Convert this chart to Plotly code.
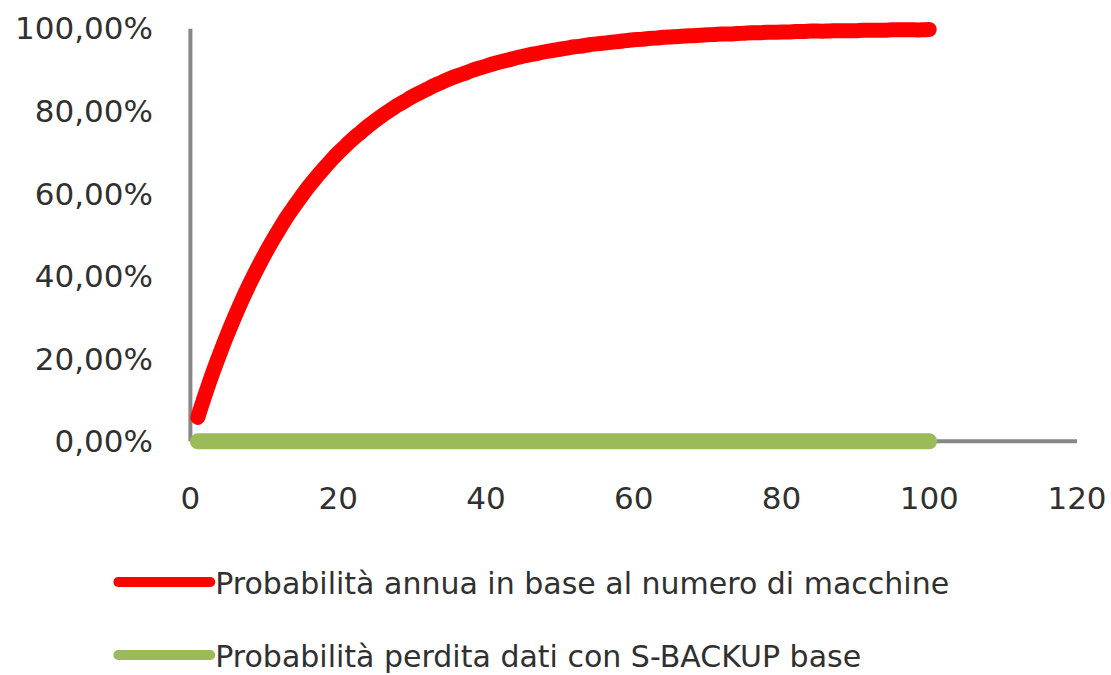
import plotly.graph_objects as go

machines = list(range(1, 101))
prob_annual = [
    0.058, 0.113, 0.165, 0.213, 0.259, 0.302, 0.343, 0.381, 0.417, 0.451,
    0.483, 0.513, 0.542, 0.568, 0.593, 0.617, 0.639, 0.660, 0.680, 0.699,
    0.716, 0.733, 0.748, 0.763, 0.777, 0.790, 0.802, 0.814, 0.824, 0.835,
    0.844, 0.853, 0.862, 0.870, 0.878, 0.885, 0.891, 0.898, 0.904, 0.909,
    0.915, 0.920, 0.924, 0.929, 0.933, 0.937, 0.940, 0.944, 0.947, 0.950,
    0.953, 0.956, 0.958, 0.961, 0.963, 0.965, 0.967, 0.969, 0.971, 0.973,
    0.974, 0.976, 0.977, 0.979, 0.980, 0.981, 0.982, 0.983, 0.984, 0.985,
    0.986, 0.987, 0.987, 0.988, 0.989, 0.990, 0.990, 0.991, 0.991, 0.992,
    0.992, 0.993, 0.993, 0.994, 0.994, 0.994, 0.995, 0.995, 0.995, 0.995,
    0.996, 0.996, 0.996, 0.996, 0.997, 0.997, 0.997, 0.997, 0.997, 0.998,
]
prob_sbackup = [0.0] * 100

names = [
    "Probabilità annua in base al numero di macchine",
    "Probabilità perdita dati con S-BACKUP base",
]
colors = ["#ff0000", "#9bbb59"]

y_ticks = [0, 0.2, 0.4, 0.6, 0.8, 1.0]
y_labels = ["0,00%", "20,00%", "40,00%", "60,00%", "80,00%", "100,00%"]
x_ticks = [0, 20, 40, 60, 80, 100, 120]

FONT = "DejaVu Sans"
TXT = "#303030"

fig = go.Figure()
fig.add_trace(go.Scatter(x=machines, y=prob_annual, mode="lines", name=names[0],
                         legendgroup="a",
                         line=dict(color=colors[0], width=15, shape="spline")))
fig.add_trace(go.Scatter(x=machines, y=prob_sbackup, mode="lines", name=names[1],
                         legendgroup="b",
                         line=dict(color=colors[1], width=16)))

# axis lines
fig.add_shape(type="line", x0=0, x1=0, y0=0, y1=1, xref="x", yref="y",
              line=dict(color="#878787", width=4), layer="below")
fig.add_shape(type="line", x0=0, x1=120, y0=0, y1=0, xref="x", yref="y",
              line=dict(color="#878787", width=4), layer="below")

fig.update_layout(
    width=1111, height=675,
    margin=dict(l=183, r=34, t=8, b=213, autoexpand=False),
    paper_bgcolor="white", plot_bgcolor="white",
    font=dict(family=FONT, size=31, color=TXT),
    xaxis=dict(range=[-1, 120], tickvals=x_ticks, showgrid=False, zeroline=False,
               showline=False, ticks="", ticklabelstandoff=15, automargin=False),
    yaxis=dict(range=[-0.05, 1.05], tickvals=y_ticks, ticktext=y_labels,
               showgrid=False, zeroline=False, showline=False, ticks="",
               ticklabelstandoff=29, automargin=False),
    legend=dict(x=-0.078, y=-0.207, xref="paper", yref="paper", yanchor="top",
                xanchor="left", font=dict(size=30), itemwidth=92,
                tracegroupgap=31, traceorder="grouped"),
    showlegend=True,
)

round_caps = (
    "document.body.style.margin='0px';"
    "document.querySelectorAll('.scatterlayer .js-line, .legendlines path')"
    ".forEach(function(p){p.style.strokeLinecap='round';p.style.strokeLinejoin='round';});"
)

fig.write_html("out.html", config={"displayModeBar": False}, post_script=round_caps)
